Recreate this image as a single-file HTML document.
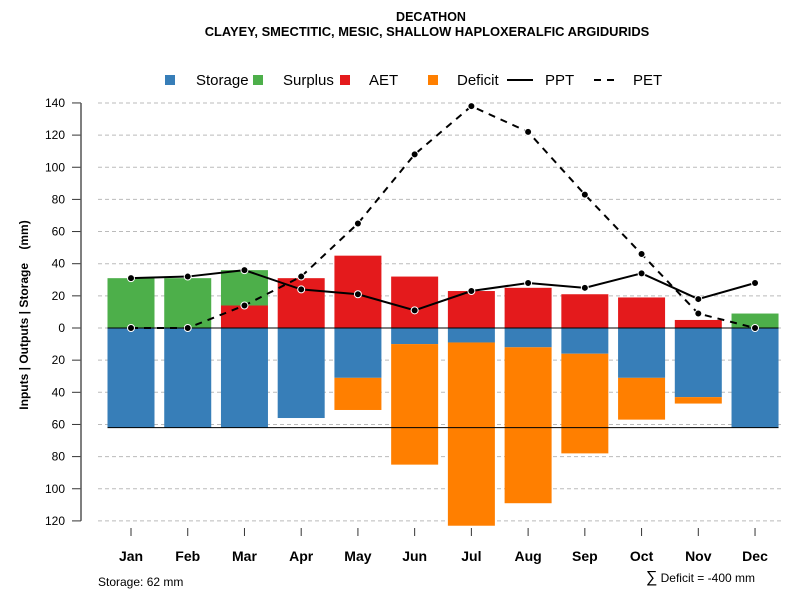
<!DOCTYPE html>
<html><head><meta charset="utf-8"><style>
body{margin:0;background:#fff;font-family:"Liberation Sans",sans-serif}
svg text{font-family:"Liberation Sans",sans-serif}
</style></head><body>
<svg id="c" width="800" height="600" xmlns="http://www.w3.org/2000/svg">
<text x="431" y="21" text-anchor="middle" font-size="12.5" font-weight="bold">DECATHON</text>
<text x="427" y="36" text-anchor="middle" font-size="12.9" font-weight="bold">CLAYEY, SMECTITIC, MESIC, SHALLOW HAPLOXERALFIC ARGIDURIDS</text>
<g font-size="15">
<rect x="165" y="75" width="10" height="10" fill="#377EB8"/>
<text x="196" y="85">Storage</text>
<rect x="253" y="75" width="10" height="10" fill="#4DAF4A"/>
<text x="283" y="85">Surplus</text>
<rect x="340" y="75" width="10" height="10" fill="#E41A1C"/>
<text x="369" y="85">AET</text>
<rect x="428" y="75" width="10" height="10" fill="#FF7F00"/>
<text x="457" y="85">Deficit</text>
<line x1="507" y1="80" x2="533" y2="80" stroke="#000" stroke-width="2"/>
<text x="545" y="85">PPT</text>
<line x1="594" y1="80" x2="617" y2="80" stroke="#000" stroke-width="2" stroke-dasharray="7,6"/>
<text x="633" y="85">PET</text>
</g>
<text transform="translate(28,315) rotate(-90)" text-anchor="middle" font-size="12" font-weight="bold" xml:space="preserve">Inputs | Outputs | Storage    (mm)</text>
<text x="98" y="586" font-size="12">Storage: 62 mm</text>
<text x="755" y="582" text-anchor="end" font-size="12"><tspan font-size="16">∑</tspan> Deficit = -400 mm</text>
<g id="grid"></g><g id="bars"></g><g id="lines"></g><g id="axes"></g>
</svg>
<script>
const months=["Jan","Feb","Mar","Apr","May","Jun","Jul","Aug","Sep","Oct","Nov","Dec"];
const storage=[62,62,62,56,31,10,9,12,16,31,43,62];
const deficit=[0,0,0,0,20,75,114,97,62,26,4,0];
const aet=[0,0,14,31,45,32,23,25,21,19,5,0];
const surplus=[31,31,22,0,0,0,0,0,0,0,0,9];
const ppt=[31,32,36,24,21,11,23,28,25,34,18,28];
const pet=[0,0,14,32,65,108,138,122,83,46,9,0];
const yTicks=[140,120,100,80,60,40,20,0,-20,-40,-60,-80,-100,-120];
const yTickLabels=["140","120","100","80","60","40","20","0","20","40","60","80","100","120"];
const storageCap=62;
const NS="http://www.w3.org/2000/svg";
const y=v=>328-v*1.6075;
const x=i=>131+i*56.73;
const bw=47;
function mk(parent,tag,attrs){const e=document.createElementNS(NS,tag);for(const k in attrs)e.setAttribute(k,attrs[k]);document.getElementById(parent).appendChild(e);return e;}
yTicks.forEach((t,i)=>{
 let g=mk('grid','line',{x1:98,x2:783,y1:y(t),y2:y(t),stroke:'#bbb','stroke-dasharray':'4,3'});
 
 
 let tk=mk('axes','line',{x1:72,x2:81,y1:y(t),y2:y(t),stroke:'#333'});
 
 
 let lb=mk('axes','text',{x:65,y:y(t)+4,'text-anchor':'end','font-size':12});
 lb.textContent=yTickLabels[i];
 
 
});
let ax=mk('axes','line',{x1:81,x2:81,y1:y(140),y2:y(-120),stroke:'#555','stroke-width':1.5});


function bar(i,top,bot,fill,name){
 let r=mk('bars','rect',{x:x(i)-bw/2,y:y(top),width:bw,height:Math.max(0,y(bot)-y(top)),fill:fill});
 
 
}
months.forEach((m,i)=>{
 bar(i,0,-storage[i],'#377EB8','bar-storage-'+m.toLowerCase());
 if(deficit[i]>0)bar(i,-storage[i],-storage[i]-deficit[i],'#FF7F00','bar-deficit-'+m.toLowerCase());
 if(aet[i]>0)bar(i,aet[i],0,'#E41A1C','bar-aet-'+m.toLowerCase());
 if(surplus[i]>0)bar(i,aet[i]+surplus[i],aet[i],'#4DAF4A','bar-surplus-'+m.toLowerCase());
 let tk=mk('axes','line',{x1:x(i),x2:x(i),y1:528,y2:536,stroke:'#333'});
 
 
 let lb=mk('axes','text',{x:x(i),y:561,'text-anchor':'middle','font-size':14,'font-weight':'bold'});
 lb.textContent=m;
 
 
});
let zl=mk('bars','line',{x1:x(0)-bw/2,x2:x(11)+bw/2,y1:y(0),y2:y(0),stroke:'#000'});


let sl=mk('bars','line',{x1:x(0)-bw/2,x2:x(11)+bw/2,y1:y(-storageCap),y2:y(-storageCap),stroke:'#000'});


function series(arr,dash,name){
 let p=mk('lines','polyline',{points:arr.map((v,i)=>x(i)+','+y(v)).join(' '),fill:'none',stroke:'#000','stroke-width':2,'stroke-dasharray':dash});
 
 
 arr.forEach((v,i)=>{
  let c=mk('lines','circle',{cx:x(i),cy:y(v),r:3.5,fill:'#000',stroke:'#fff','stroke-width':1});
  
  
 });
}
series(ppt,'none','ppt');
series(pet,'7,6','pet');
</script>
</body></html>
